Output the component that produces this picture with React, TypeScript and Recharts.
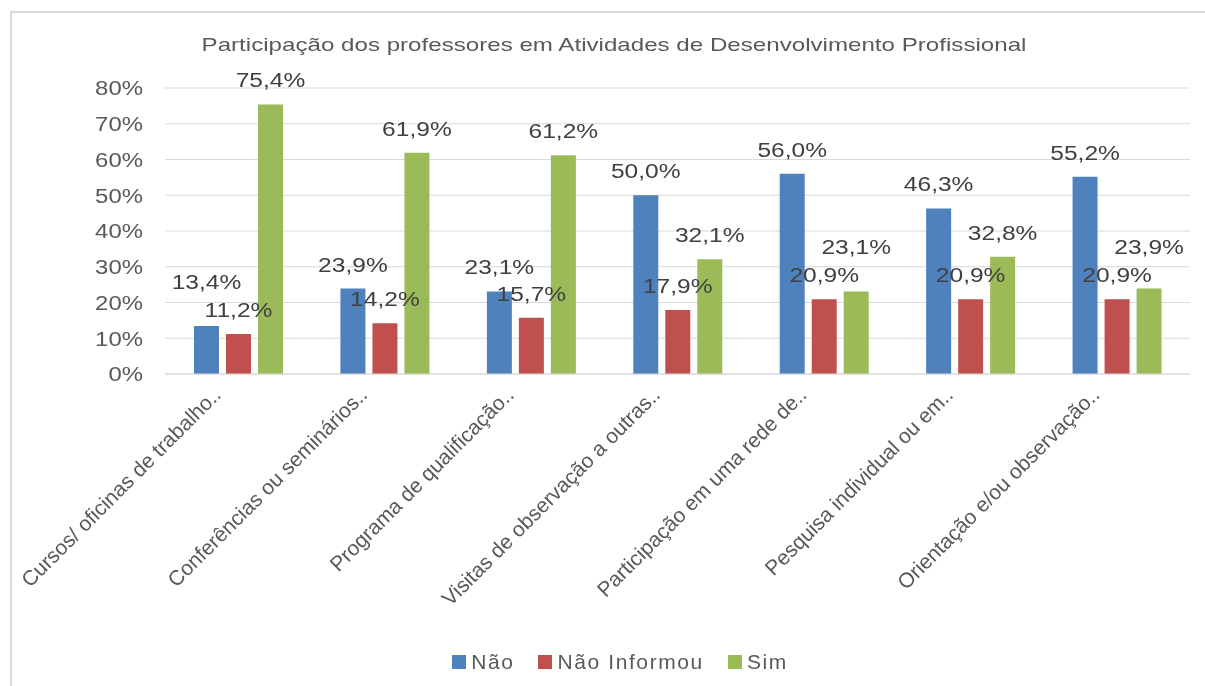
import React from "react";
import { Bar, BarChart, CartesianGrid, LabelList, Legend, XAxis, YAxis } from "recharts";

const categories = [
  "Cursos/ oficinas de trabalho..",
  "Conferências ou seminários..",
  "Programa de qualificação..",
  "Visitas de observação a outras..",
  "Participação em uma rede de..",
  "Pesquisa individual ou em..",
  "Orientação e/ou observação..",
];
const nao = [13.4, 23.9, 23.1, 50.0, 56.0, 46.3, 55.2];
const naoInformou = [11.2, 14.2, 15.7, 17.9, 20.9, 20.9, 20.9];
const sim = [75.4, 61.9, 61.2, 32.1, 23.1, 32.8, 23.9];
const yTicks = [0, 10, 20, 30, 40, 50, 60, 70, 80];

const series = [
  { key: "nao", name: "Não", color: "#4F81BD", values: nao },
  { key: "naoInformou", name: "Não Informou", color: "#C0504D", values: naoInformou },
  { key: "sim", name: "Sim", color: "#9BBB59", values: sim },
];

const data = categories.map((name, i) => ({
  name,
  nao: nao[i],
  naoInformou: naoInformou[i],
  sim: sim[i],
}));

const FONT = "'Liberation Sans', Arial, sans-serif";
const pct = (v: number) => `${v.toFixed(1).replace(".", ",")}%`;

// the source image is a bit stretched sideways, so most texts get a small scaleX
function XTick(props: any) {
  const { x, y, payload } = props;
  const ax = x - 16;
  const ay = y + 14;
  return (
    <text
      x={ax}
      y={ay}
      transform={`rotate(-45 ${ax} ${ay})`}
      textAnchor="end"
      fontSize={21}
      fontFamily={FONT}
      fill="#595959"
    >
      {payload.value}
    </text>
  );
}

function YTick(props: any) {
  const { x, y, payload } = props;
  return (
    <text
      transform={`translate(${x},${y}) scale(1.14,1)`}
      textAnchor="end"
      dy="0.355em"
      fontSize={21}
      fontFamily={FONT}
      fill="#595959"
    >
      {`${payload.value}%`}
    </text>
  );
}

// labels sit 17px above the bar; when a neighbour's label is almost level,
// the taller bar's label is lifted above it (as in the original chart)
function BarLabel(props: any) {
  const { x, y, width, height, value, index, s } = props;
  const v = Number(value);
  const top = Number(y);
  const base = top + Number(height);
  const ppu = v ? Number(height) / v : 0;
  let by = top - 17;
  for (const n of [s - 1, s + 1]) {
    if (n < 0 || n >= series.length) continue;
    const nv = series[n].values[index];
    if (nv < v && (v - nv) * ppu < 22) {
      const nBy = base - nv * ppu - 17;
      by = Math.min(by, nBy - 28);
    }
  }
  const cx = Number(x) + Number(width) / 2;
  return (
    <text
      transform={`translate(${cx},${by}) scale(1.17,1)`}
      textAnchor="middle"
      fontSize={21}
      fontFamily={FONT}
      fill="#404040"
    >
      {pct(v)}
    </text>
  );
}

function LegendBody() {
  return (
    <div
      style={{
        display: "flex",
        justifyContent: "center",
        paddingLeft: 50,
        fontFamily: FONT,
        fontSize: 21,
        letterSpacing: 1.6,
        color: "#595959",
        gap: 24,
      }}
    >
      {series.map((s) => (
        <div key={s.key} style={{ display: "flex", alignItems: "center" }}>
          <span style={{ width: 14, height: 14, background: s.color, marginRight: 5, display: "inline-block" }} />
          {s.name}
        </div>
      ))}
    </div>
  );
}

export default function App() {
  return (
    <div style={{ position: "fixed", left: 0, top: 0, width: 1205, height: 686, background: "#fff" }}>
      <div
        style={{
          position: "absolute",
          left: 10,
          top: 11,
          right: 0,
          bottom: 0,
          borderTop: "2px solid #d9d9d9",
          borderLeft: "2px solid #d9d9d9",
        }}
      />
      <div
        style={{
          position: "absolute",
          left: 0,
          width: 1228,
          top: 34,
          textAlign: "center",
          fontFamily: FONT,
          fontSize: 19,
          color: "#595959",
          transform: "scaleX(1.27)",
          transformOrigin: "614px 0",
        }}
      >
        Participação dos professores em Atividades de Desenvolvimento Profissional
      </div>
      <div style={{ position: "absolute", left: 0, top: 0 }}>
        <BarChart
          width={1205}
          height={686}
          data={data}
          margin={{ top: 88, right: 15, bottom: 12, left: 0 }}
          barSize={25}
          barGap={7}
        >
          <CartesianGrid vertical={false} stroke="#d9d9d9" />
          <XAxis
            dataKey="name"
            interval={0}
            tickLine={false}
            axisLine={{ stroke: "#d9d9d9" }}
            height={276}
            tick={<XTick />}
          />
          <YAxis
            width={165}
            domain={[0, 80]}
            ticks={yTicks}
            axisLine={false}
            tickLine={false}
            tickMargin={16}
            tick={<YTick />}
          />
          <Legend verticalAlign="bottom" content={<LegendBody />} />
          {series.map((s, si) => (
            <Bar key={s.key} dataKey={s.key} name={s.name} fill={s.color} isAnimationActive={false}>
              <LabelList dataKey={s.key} content={<BarLabel s={si} />} />
            </Bar>
          ))}
        </BarChart>
      </div>
    </div>
  );
}
